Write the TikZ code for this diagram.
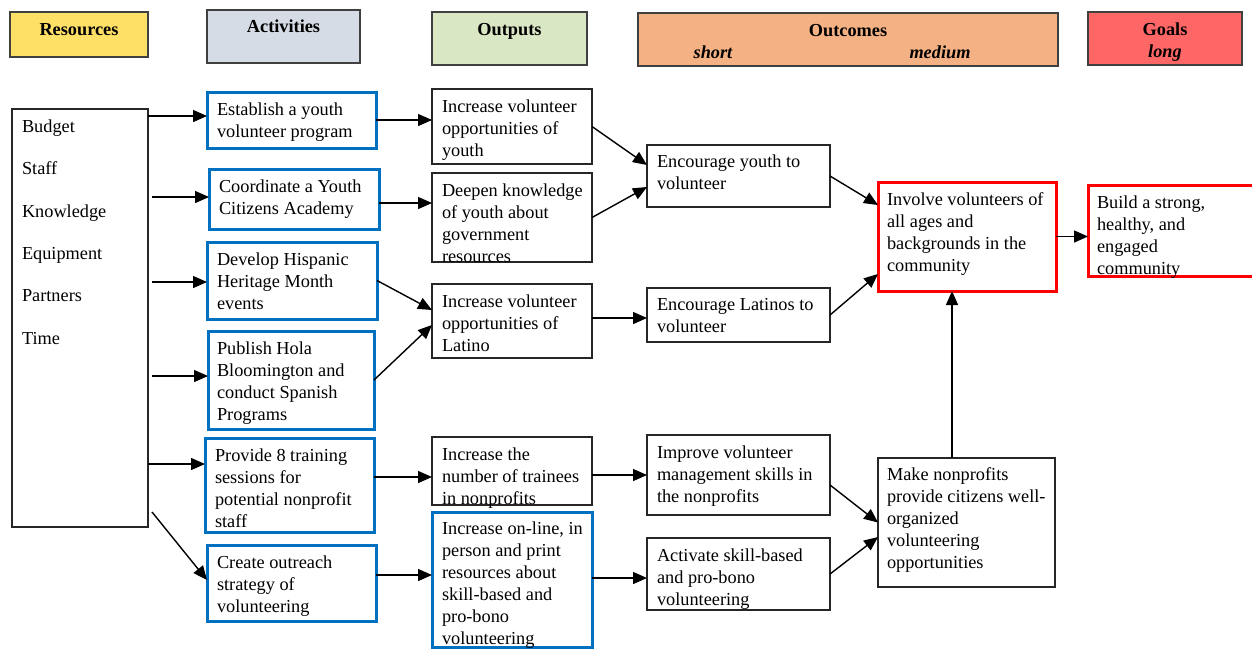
\documentclass[tikz,border=0pt]{standalone}
\usepackage{fontspec}
\setmainfont{Liberation Serif}
\usetikzlibrary{arrows.meta,calc}

\definecolor{resfill}{HTML}{FFE066}
\definecolor{actfill}{HTML}{D6DCE5}
\definecolor{outfill}{HTML}{D9E7C4}
\definecolor{ocfill}{HTML}{F4B183}
\definecolor{goalfill}{HTML}{FF6666}
\definecolor{actblue}{HTML}{0070C0}
\definecolor{hdrline}{HTML}{404040}

\begin{document}
\begin{tikzpicture}[x=1pt,y=-1pt,
  every node/.style={inner sep=0pt, outer sep=0pt},
  box/.style={draw=black!85, line width=1.3pt, anchor=north west, fill=white},
  actbox/.style={box, draw=actblue, line width=3pt},
  keybox/.style={box, draw=red, line width=3pt},
  hdr/.style={draw=hdrline, line width=1.5pt, anchor=north west},
  txt/.style={anchor=north west, align=left, font=\fontsize{18.3}{22}\selectfont,
    yshift=-4.5pt},
  hdrtxt/.style={anchor=base, font=\fontsize{18.3}{22}\selectfont\bfseries},
  subtxt/.style={anchor=base, font=\fontsize{18.3}{22}\selectfont\bfseries\itshape},
  arr/.style={line width=1.4pt, -{Triangle[length=14pt,width=12pt]}},
]
\useasboundingbox (0,0) rectangle (1252,648);
\fill[white] (0,0) rectangle (1252,648);

% column headers
\node[hdr, fill=resfill,  minimum width=138pt, minimum height=45pt] (hres) at (10,12) {};
\node[hdr, fill=actfill,  minimum width=153pt, minimum height=53pt] (hact) at (207,10) {};
\node[hdr, fill=outfill,  minimum width=155pt, minimum height=53pt] (hout) at (432,12) {};
\node[hdr, fill=ocfill,   minimum width=420pt, minimum height=53pt] (hoc) at (638,13) {};
\node[hdr, fill=goalfill, minimum width=154pt, minimum height=53pt] (hgoal) at (1088,12) {};

\node[hdrtxt] (tres) at (79,35.5) {Resources};
\node[hdrtxt] (tact) at (283.5,32.5) {Activities};
\node[hdrtxt] (tout) at (509.5,35.5) {Outputs};
\node[hdrtxt] (toc) at (848,36.5) {Outcomes};
\node[subtxt] (tshort) at (713,58.5) {short};
\node[subtxt] (tmed) at (940,58.5) {medium};
\node[hdrtxt] (tgoal) at (1165,35.5) {Goals};
\node[subtxt] (tlong) at (1165,57.5) {long};

% resources
\node[box, minimum width=136pt, minimum height=418pt] (res) at (12,109) {};
\node[txt, font=\fontsize{18.3}{42.4}\selectfont] (rest) at (22,115)
  {Budget\\Staff\\Knowledge\\Equipment\\Partners\\Time};

% activities
\node[actbox, minimum width=169pt, minimum height=56pt] (a1) at (207,92) {};
\node[actbox, minimum width=170pt, minimum height=60pt] (a2) at (209,169) {};
\node[actbox, minimum width=170pt, minimum height=77pt] (a3) at (207,242) {};
\node[actbox, minimum width=166pt, minimum height=98pt] (a4) at (208,331) {};
\node[actbox, minimum width=169pt, minimum height=94pt] (a5) at (205,438) {};
\node[actbox, minimum width=169pt, minimum height=76pt] (a6) at (207,545) {};

\node[txt] (a1t) at (217,98) {Establish a youth\\volunteer program};
\node[txt] (a2t) at (219,175) {Coordinate a Youth\\Citizens Academy};
\node[txt] (a3t) at (217,248) {Develop Hispanic\\Heritage Month\\events};
\node[txt] (a4t) at (217,337) {Publish Hola\\Bloomington and\\conduct Spanish\\Programs};
\node[txt] (a5t) at (215,444) {Provide 8 training\\sessions for\\potential nonprofit\\staff};
\node[txt] (a6t) at (217,551) {Create outreach\\strategy of\\volunteering};

% outputs
\node[box, minimum width=160pt, minimum height=75pt] (o1) at (432,89) {};
\node[box, minimum width=160pt, minimum height=89pt] (o2) at (432,173) {};
\node[box, minimum width=160pt, minimum height=74pt] (o3) at (432,284) {};
\node[box, minimum width=160pt, minimum height=68pt] (o4) at (432,437) {};
\node[actbox, minimum width=160pt, minimum height=135pt] (o5) at (432,512) {};

\node[txt] (o1t) at (442,95) {Increase volunteer\\opportunities of\\youth};
\node[txt] (o2t) at (442,179) {Deepen knowledge\\of youth about\\government\\resources};
\node[txt] (o3t) at (442,290) {Increase volunteer\\opportunities of\\Latino};
\node[txt] (o4t) at (442,443) {Increase the\\number of trainees\\in nonprofits};
\node[txt] (o5t) at (442,517) {Increase on-line, in\\person and print\\resources about\\skill-based and\\pro-bono\\volunteering};

% short-term outcomes
\node[box, minimum width=183pt, minimum height=62pt] (s1) at (647,145) {};
\node[box, minimum width=183pt, minimum height=54pt] (s2) at (647,288) {};
\node[box, minimum width=183pt, minimum height=80pt] (s3) at (647,435) {};
\node[box, minimum width=183pt, minimum height=72pt] (s4) at (647,538) {};

\node[txt] (s1t) at (657,150) {Encourage youth to\\volunteer};
\node[txt] (s2t) at (657,294) {Encourage Latinos to\\volunteer};
\node[txt] (s3t) at (657,441) {Improve volunteer\\management skills in\\the nonprofits};
\node[txt] (s4t) at (657,544) {Activate skill-based\\and pro-bono\\volunteering};

% medium-term outcomes
\node[keybox, minimum width=178pt, minimum height=109pt] (m1) at (878,182) {};
\node[box, minimum width=177pt, minimum height=129pt] (m2) at (878,458) {};

\node[txt] (m1t) at (887,188) {Involve volunteers of\\all ages and\\backgrounds in the\\community};
\node[txt] (m2t) at (887,463) {Make nonprofits\\provide citizens well-\\organized\\volunteering\\opportunities};

% long-term goal
\node[keybox, minimum width=168pt, minimum height=91pt] (g) at (1088,185) {};
\node[txt] (gt) at (1097,191) {Build a strong,\\healthy, and\\engaged\\community};

% resources -> activities
\draw[arr] ($(res.east|-a1.west)+(0,-4)$) -- ($(a1.west)+(0,-4)$);
\draw[arr] ($(res.east|-a2.west)+(4,-2)$) -- ($(a2.west)+(0,-2)$);
\draw[arr] ($(res.east|-a3.west)+(4,1.5)$) -- ($(a3.west)+(0,1.5)$);
\draw[arr] ($(res.east|-a4.west)+(4,-4)$) -- ($(a4.west)+(0,-4)$);
\draw[arr] ($(res.east|-a5.west)+(0,-21)$) -- ($(a5.west)+(0,-21)$);
\draw[arr] ($(res.south east)+(4,-15)$) -- ($(a6.west)+(0,-3)$);

% activities -> outputs
\draw[arr] (a1.east) -- (a1.east -| o1.west);
\draw[arr] ($(a2.east)+(0,4)$) -- ($(a2.east -| o2.west)+(0,4)$);
\draw[arr] (a3.east) -- ($(o3.west)+(0,-11)$);
\draw[arr] (a4.east) -- ($(o3.west)+(0,4)$);
\draw[arr] ($(a5.east)+(0,-8)$) -- ($(a5.east -| o4.west)+(0,-8)$);
\draw[arr] ($(a6.east)+(0,-8)$) -- ($(a6.east -| o5.west)+(0,-8)$);

% outputs -> short-term outcomes
\draw[arr] (o1.east) -- ($(s1.west)+(0,-11)$);
\draw[arr] (o2.east) -- ($(s1.west)+(0,11)$);
\draw[arr] ($(o3.east)+(0,-3)$) -- ($(o3.east -| s2.west)+(0,-3)$);
\draw[arr] (o4.east |- s3.west) -- (s3.west);
\draw[arr] ($(o5.east)+(0,-1.5)$) -- ($(o5.east -| s4.west)+(0,-1.5)$);

% short-term -> medium-term outcomes
\draw[arr] (s1.east) -- ($(m1.west)+(0,-31.5)$);
\draw[arr] (s2.east) -- ($(m1.west)+(0,37.5)$);
\draw[arr] ($(s3.east)+(0,10)$) -- (m2.west);
\draw[arr] (s4.east) -- ($(m2.west)+(0,14.5)$);
\draw[arr] ($(m2.north)+(-14.5,0)$) -- ($(m1.south)+(-15,0)$);

% medium-term outcome -> goal
\draw[arr] (m1.east) -- (m1.east -| g.west);
\end{tikzpicture}
\end{document}
